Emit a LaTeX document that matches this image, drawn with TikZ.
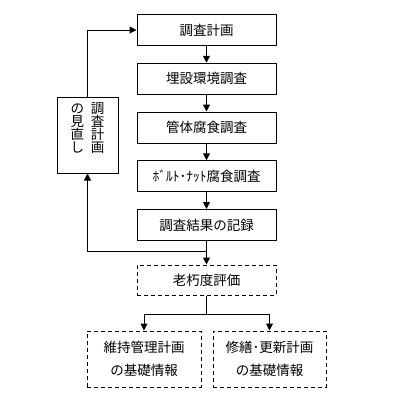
\documentclass[tikz,border=0pt]{standalone}
\usepackage{fontspec}
\setmainfont{Noto Sans CJK JP}
\usetikzlibrary{arrows.meta}

\begin{document}
\begin{tikzpicture}[
  x=1pt, y=-1pt,
  line width=1pt,
  >={Triangle[length=7pt,width=7pt]},
  every node/.style={font=\fontsize{13.5}{13}\selectfont, inner sep=0pt},
  step box/.style={draw, minimum width=139pt, minimum height=31pt},
  info box/.style={draw, dash pattern=on 4pt off 3pt, minimum width=114pt, minimum height=56pt,
    align=center, font=\fontsize{13.5}{23}\selectfont}
]
  \useasboundingbox (0,0) rectangle (401,400);

  \node[step box] (plan)    at (206.5,30)    {調査計画};
  \node[step box] (burial)  at (206.5,78.75) {埋設環境調査};
  \node[step box] (pipe)    at (206.5,127.5) {管体腐食調査};
  \node[step box] (bolt)    at (206.5,176.25){ﾎﾞﾙﾄ･ﾅｯﾄ腐食調査};
  \node[step box] (record)  at (206.5,225)   {調査結果の記録};

  \node[draw, minimum width=61pt, minimum height=76pt] (review) at (87.5,135) {};
  \node[align=center] (reviewtext) at (87.5,128)
    {の\hspace{7pt}調\\見\hspace{7pt}査\\直\hspace{7pt}計\\し\hspace{7pt}画};

  \node[step box, dash pattern=on 4pt off 3pt, minimum height=30pt] (eval) at (206.5,280) {老朽度評価};
  \node[info box] (maint)  at (144,359)   {維持管理計画\\の基礎情報};
  \node[info box, minimum width=113pt] (renew) at (269.5,359) {修繕･更新計画\\の基礎情報};

  \coordinate (split)  at (206.5,251);
  \coordinate (branch) at (206.5,314);

  \draw[->] (plan) -- (burial);
  \draw[->] (burial) -- (pipe);
  \draw[->] (pipe) -- (bolt);
  \draw[->] (bolt) -- (record);
  \draw[->] (record) -- (eval);
  \draw[->] (split) -| (review);
  \draw[->] (review) |- (plan);
  \draw (eval) -- (branch);
  \draw[->] (branch) -| (maint);
  \draw[->] (branch) -| (renew);
\end{tikzpicture}
\end{document}
